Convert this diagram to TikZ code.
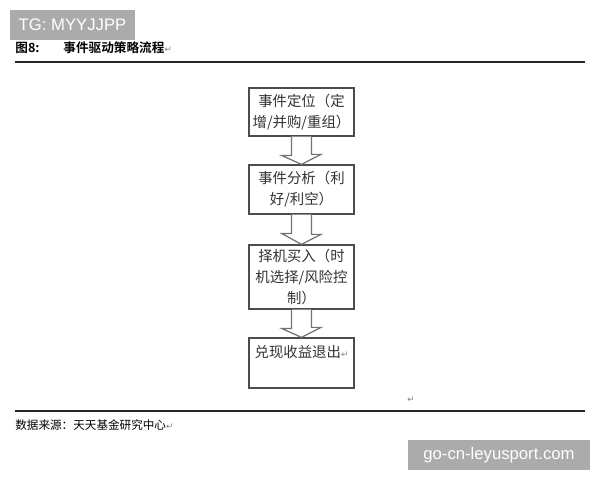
\documentclass[tikz,border=0pt]{standalone}
\usepackage{fontspec}
\setmainfont{Liberation Sans}
\newfontfamily\cjk{Noto Sans CJK SC}
\newfontfamily\cjkb{Noto Sans CJK SC Bold}
\newfontfamily\dv{DejaVu Sans}
\newcommand{\retmark}{{\dv\fontsize{5pt}{5pt}\selectfont\textcolor{gray}{↵}}}
\begin{document}
\begin{tikzpicture}[x=0.02cm,y=-0.02cm,
  wmark/.style={fill=black!33,text=white,inner sep=0pt,font=\fontsize{9.5pt}{10pt}\selectfont},
  stepbox/.style={draw=black!70,line width=0.7pt,minimum width=105*0.02cm,inner sep=0pt,
     align=center,font=\cjk\fontsize{8.2pt}{11.9pt}\selectfont,text=black!80},
  blockarrow/.style={draw=black!55,line width=0.7pt,fill=white},
  rule/.style={draw=black!85,line width=0.8pt}]
\useasboundingbox (0,0) rectangle (600,480);
\fill[white] (0,0) rectangle (600,480);
% watermarks
\node[wmark,minimum width=125*0.02cm,minimum height=30*0.02cm] (tg) at (72.5,25) {TG: MYYJJPP};
\node[wmark,minimum width=182*0.02cm,minimum height=30*0.02cm] (site) at (499,455) {go-cn-leyusport.com};
% title
\node[anchor=west,inner sep=0pt,font=\cjkb\fontsize{7.2pt}{8pt}\selectfont] (fig) at (15,48) {图8:};
\node[anchor=west,inner sep=0pt,font=\cjkb\fontsize{7.2pt}{8pt}\selectfont] (title) at (63,48) {事件驱动策略流程\retmark};
\coordinate (r1a) at (15,62);
\coordinate (r1b) at (585,62);
\draw[rule] (r1a) -- (r1b);
% boxes
\node[stepbox,minimum height=48*0.02cm] (b1) at (301.5,112) {事件定位（定\\增/并购/重组）};
\node[stepbox,minimum height=49*0.02cm] (b2) at (301.5,189.5) {事件分析（利\\好/利空）};
\node[stepbox,minimum height=64*0.02cm] (b3) at (301.5,277) {择机买入（时\\机选择/风险控\\制）};
\node[stepbox,minimum height=50*0.02cm] (b4) at (301.5,363) {};
\node[anchor=north,inner sep=0pt,font=\cjk\fontsize{8.2pt}{11.9pt}\selectfont,text=black!80] (b4t) at ([yshift=-8*0.02cm]b4.north) {兑现收益退出\retmark};
% block arrows
\foreach \a/\b in {b1/b2,b2/b3,b3/b4}{
  \draw[blockarrow] ([xshift=-10*0.02cm]\a.south) -- ++(0,19) -- ++(-9.5,0) -- (\b.north) -- ++(19.5,-10) -- ++(-9.5,0) -- ([xshift=10*0.02cm]\a.south);
}
\node[inner sep=0pt] (ret) at (411,400) {\retmark};
\coordinate (r2a) at (15,411);
\coordinate (r2b) at (585,411);
\draw[rule] (r2a) -- (r2b);
\node[anchor=west,inner sep=0pt,font=\cjk\fontsize{6.6pt}{8pt}\selectfont] (src) at (15,425) {数据来源：天天基金研究中心\retmark};
\end{tikzpicture}
\end{document}
